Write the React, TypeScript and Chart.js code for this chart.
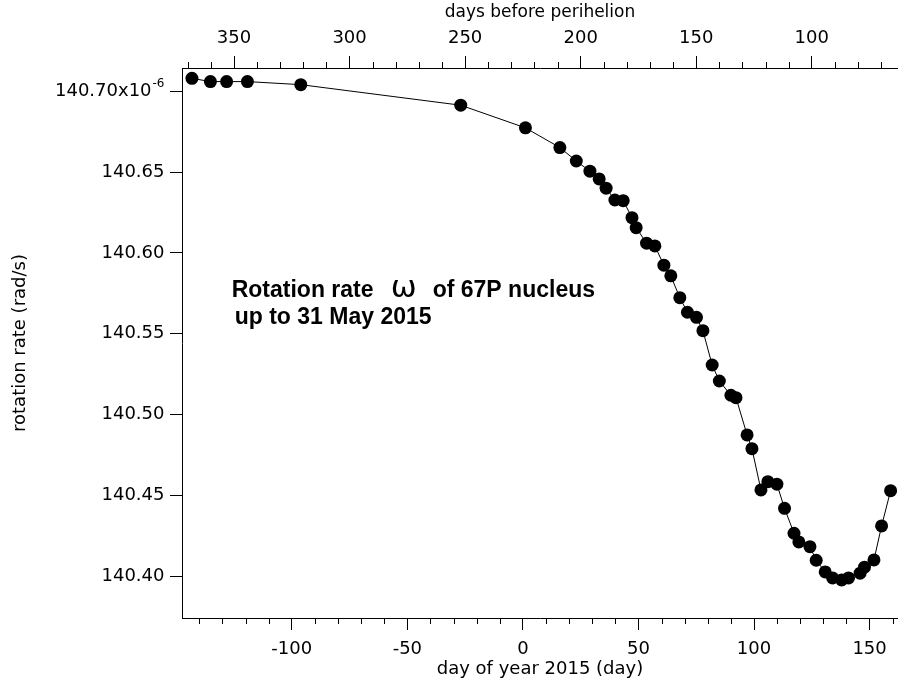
import React, { useEffect, useRef } from 'react';
import { Chart, registerables } from 'chart.js';

Chart.register(...registerables);

// day of year 2015 of each measurement
const DOY = [
  -143.2, -135.2, -128.2, -119.2, -96.1, -26.9, 1.1, 16.0, 23.1, 29.0,
  33.0, 36.0, 39.8, 43.4, 47.2, 49.0, 53.5, 57.1, 61.0, 64.0,
  67.9, 71.2, 75.1, 77.9, 81.9, 85.0, 90.0, 92.2, 97.0, 99.1,
  103.0, 106.0, 109.9, 113.2, 117.3, 119.4, 124.2, 126.9, 130.8, 134.0,
  137.9, 140.9, 145.9, 147.8, 151.9, 155.2, 159.1,
];

// rotation rate, units of 1e-6 rad/s
const OMEGA = [
  140.7079, 140.7059, 140.7059, 140.7059, 140.704, 140.6913, 140.6773, 140.6651, 140.6568, 140.6505,
  140.6457, 140.64, 140.6327, 140.6323, 140.6218, 140.6156, 140.606, 140.6043, 140.5924, 140.5858,
  140.5723, 140.5633, 140.5602, 140.5519, 140.5307, 140.5208, 140.512, 140.5105, 140.4875, 140.479,
  140.4535, 140.4586, 140.457, 140.4421, 140.4267, 140.4213, 140.4184, 140.41, 140.4028, 140.3991,
  140.3978, 140.3991, 140.402, 140.4057, 140.4102, 140.4312, 140.453,
];

const PERIHELION_DOY = 225;

const X_TICKS = [-100, -50, 0, 50, 100, 150];
const X_MINOR = [-140, -130, -120, -110, -90, -80, -70, -60, -40, -30, -20, -10, 10, 20, 30, 40, 60, 70, 80, 90, 110, 120, 130, 140, 160];
const TOP_TICKS = [350, 300, 250, 200, 150, 100];
const TOP_MINOR = [370, 360, 340, 330, 320, 310, 290, 280, 270, 260, 240, 230, 220, 210, 190, 180, 170, 160, 140, 130, 120, 110, 90, 80, 70];
const Y_TICKS = [140.4, 140.45, 140.5, 140.55, 140.6, 140.65, 140.7];

const X_MIN = -147.5;
const X_MAX = 162.3;
const Y_MIN = 140.3743;
const Y_MAX = 140.7143;

const ANNOT_DOY = -126;
const ANNOT_OMEGA = 140.5727;
const ANNOT_LINE1_A = 'Rotation rate';
const ANNOT_OMEGA_SYM = 'ω';
const ANNOT_LINE1_B = 'of 67P nucleus';
const ANNOT_LINE2 = 'up to 31 May 2015';

const FONT = '"DejaVu Sans", sans-serif';
const BOLD = 'bold 23px "Liberation Sans", Arial, sans-serif';

const decor = {
  id: 'decor',
  afterDraw(chart: any) {
    const ctx = chart.ctx;
    const { left, top, bottom } = chart.chartArea;
    const sx = chart.scales.x;
    const sx2 = chart.scales.x2;
    const sy = chart.scales.y;
    ctx.save();
    ctx.strokeStyle = '#000';
    ctx.lineWidth = 1;
    ctx.beginPath();
    X_MINOR.forEach((v) => {
      const px = Math.round(sx.getPixelForValue(v)) + 0.5;
      ctx.moveTo(px, bottom);
      ctx.lineTo(px, bottom + 6);
    });
    TOP_MINOR.forEach((v) => {
      const px = Math.round(sx2.getPixelForValue(v)) + 0.5;
      ctx.moveTo(px, top);
      ctx.lineTo(px, top - 6);
    });
    ctx.stroke();

    // y tick labels
    ctx.fillStyle = '#000';
    const xr = left - 17.5;
    Y_TICKS.forEach((v, i) => {
      const py = sy.getPixelForValue(v);
      ctx.textAlign = 'right';
      ctx.textBaseline = 'middle';
      if (i === Y_TICKS.length - 1) {
        ctx.font = `12px ${FONT}`;
        const sup = '-6';
        const sw = ctx.measureText(sup).width;
        ctx.fillText(sup, xr, py - 7);
        ctx.font = `18px ${FONT}`;
        ctx.fillText(v.toFixed(2) + 'x10', xr - sw - 1, py);
      } else {
        ctx.font = `18px ${FONT}`;
        ctx.fillText(v.toFixed(2), xr, py);
      }
    });

    // annotation
    const ax = sx.getPixelForValue(ANNOT_DOY);
    const ay = sy.getPixelForValue(ANNOT_OMEGA);
    ctx.textAlign = 'left';
    ctx.textBaseline = 'alphabetic';
    ctx.font = BOLD;
    ctx.fillText(ANNOT_LINE1_A, ax, ay);
    ctx.font = '31px "DejaVu Sans", sans-serif';
    ctx.fillText(ANNOT_OMEGA_SYM, ax + 159, ay);
    ctx.font = BOLD;
    ctx.fillText(ANNOT_LINE1_B, ax + 201, ay);
    ctx.fillText(ANNOT_LINE2, ax + 3, ay + 27);
    ctx.restore();
  },
};

export default function App() {
  const ref = useRef<HTMLCanvasElement>(null);
  useEffect(() => {
    if (!ref.current) return;
    const chart = new Chart(ref.current, {
      type: 'line',
      data: {
        datasets: [
          {
            data: DOY.map((d, i) => ({ x: d, y: OMEGA[i] })),
            borderColor: '#000',
            borderWidth: 1,
            pointRadius: 6.5,
            pointBackgroundColor: '#000',
            pointBorderWidth: 0,
            tension: 0,
            xAxisID: 'x',
            yAxisID: 'y',
          },
        ],
      },
      options: {
        animation: false,
        responsive: false,
        devicePixelRatio: 1,
        layout: { padding: 0, autoPadding: false },
        plugins: { legend: { display: false }, tooltip: { enabled: false } },
        scales: {
          x: {
            type: 'linear',
            position: 'bottom',
            min: X_MIN,
            max: X_MAX,
            afterBuildTicks: (s: any) => { s.ticks = X_TICKS.map((value) => ({ value })); },
            afterFit: (s: any) => { s.height = 70; s.paddingLeft = 0; s.paddingRight = 0; },
            grid: { display: true, drawOnChartArea: false, drawTicks: true, tickLength: 12, color: '#000', lineWidth: 1 },
            border: { display: true, color: '#000', width: 1 },
            ticks: { color: '#000', font: { family: FONT, size: 18 }, padding: 9, maxRotation: 0, callback: (v: any) => String(v) },
            title: { display: true, text: 'day of year 2015 (day)', color: '#000', font: { family: FONT, size: 18 }, padding: { top: 0, bottom: 8 } },
          },
          x2: {
            type: 'linear',
            position: 'top',
            reverse: true,
            min: PERIHELION_DOY - X_MAX,
            max: PERIHELION_DOY - X_MIN,
            afterBuildTicks: (s: any) => { s.ticks = TOP_TICKS.map((value) => ({ value })); },
            afterFit: (s: any) => { s.height = 68; s.paddingLeft = 0; s.paddingRight = 0; },
            grid: { display: true, drawOnChartArea: false, drawTicks: true, tickLength: 12, color: '#000', lineWidth: 1 },
            border: { display: true, color: '#000', width: 1 },
            ticks: { color: '#000', font: { family: FONT, size: 18 }, padding: 7, maxRotation: 0, callback: (v: any) => String(v) },
            title: { display: true, text: 'days before perihelion', color: '#000', font: { family: FONT, size: 17 }, padding: { top: 2, bottom: 0 } },
          },
          y: {
            type: 'linear',
            position: 'left',
            min: Y_MIN,
            max: Y_MAX,
            afterBuildTicks: (s: any) => { s.ticks = Y_TICKS.map((value) => ({ value })); },
            afterFit: (s: any) => { s.width = 182; },
            grid: { display: true, drawOnChartArea: false, drawTicks: true, tickLength: 12, color: '#000', lineWidth: 1 },
            border: { display: true, color: '#000', width: 1 },
            ticks: { display: false },
            title: { display: true, text: 'rotation rate (rad/s)', color: '#000', font: { family: FONT, size: 18 }, padding: { top: 10, bottom: 0 } },
          },
        },
      },
      plugins: [decor],
    });
    return () => chart.destroy();
  }, []);
  return (
    <div style={{ position: 'absolute', left: 0, top: 0, width: 898, height: 688, background: '#fff' }}>
      <canvas ref={ref} width={898} height={688} style={{ width: 898, height: 688, display: 'block' }} />
    </div>
  );
}
